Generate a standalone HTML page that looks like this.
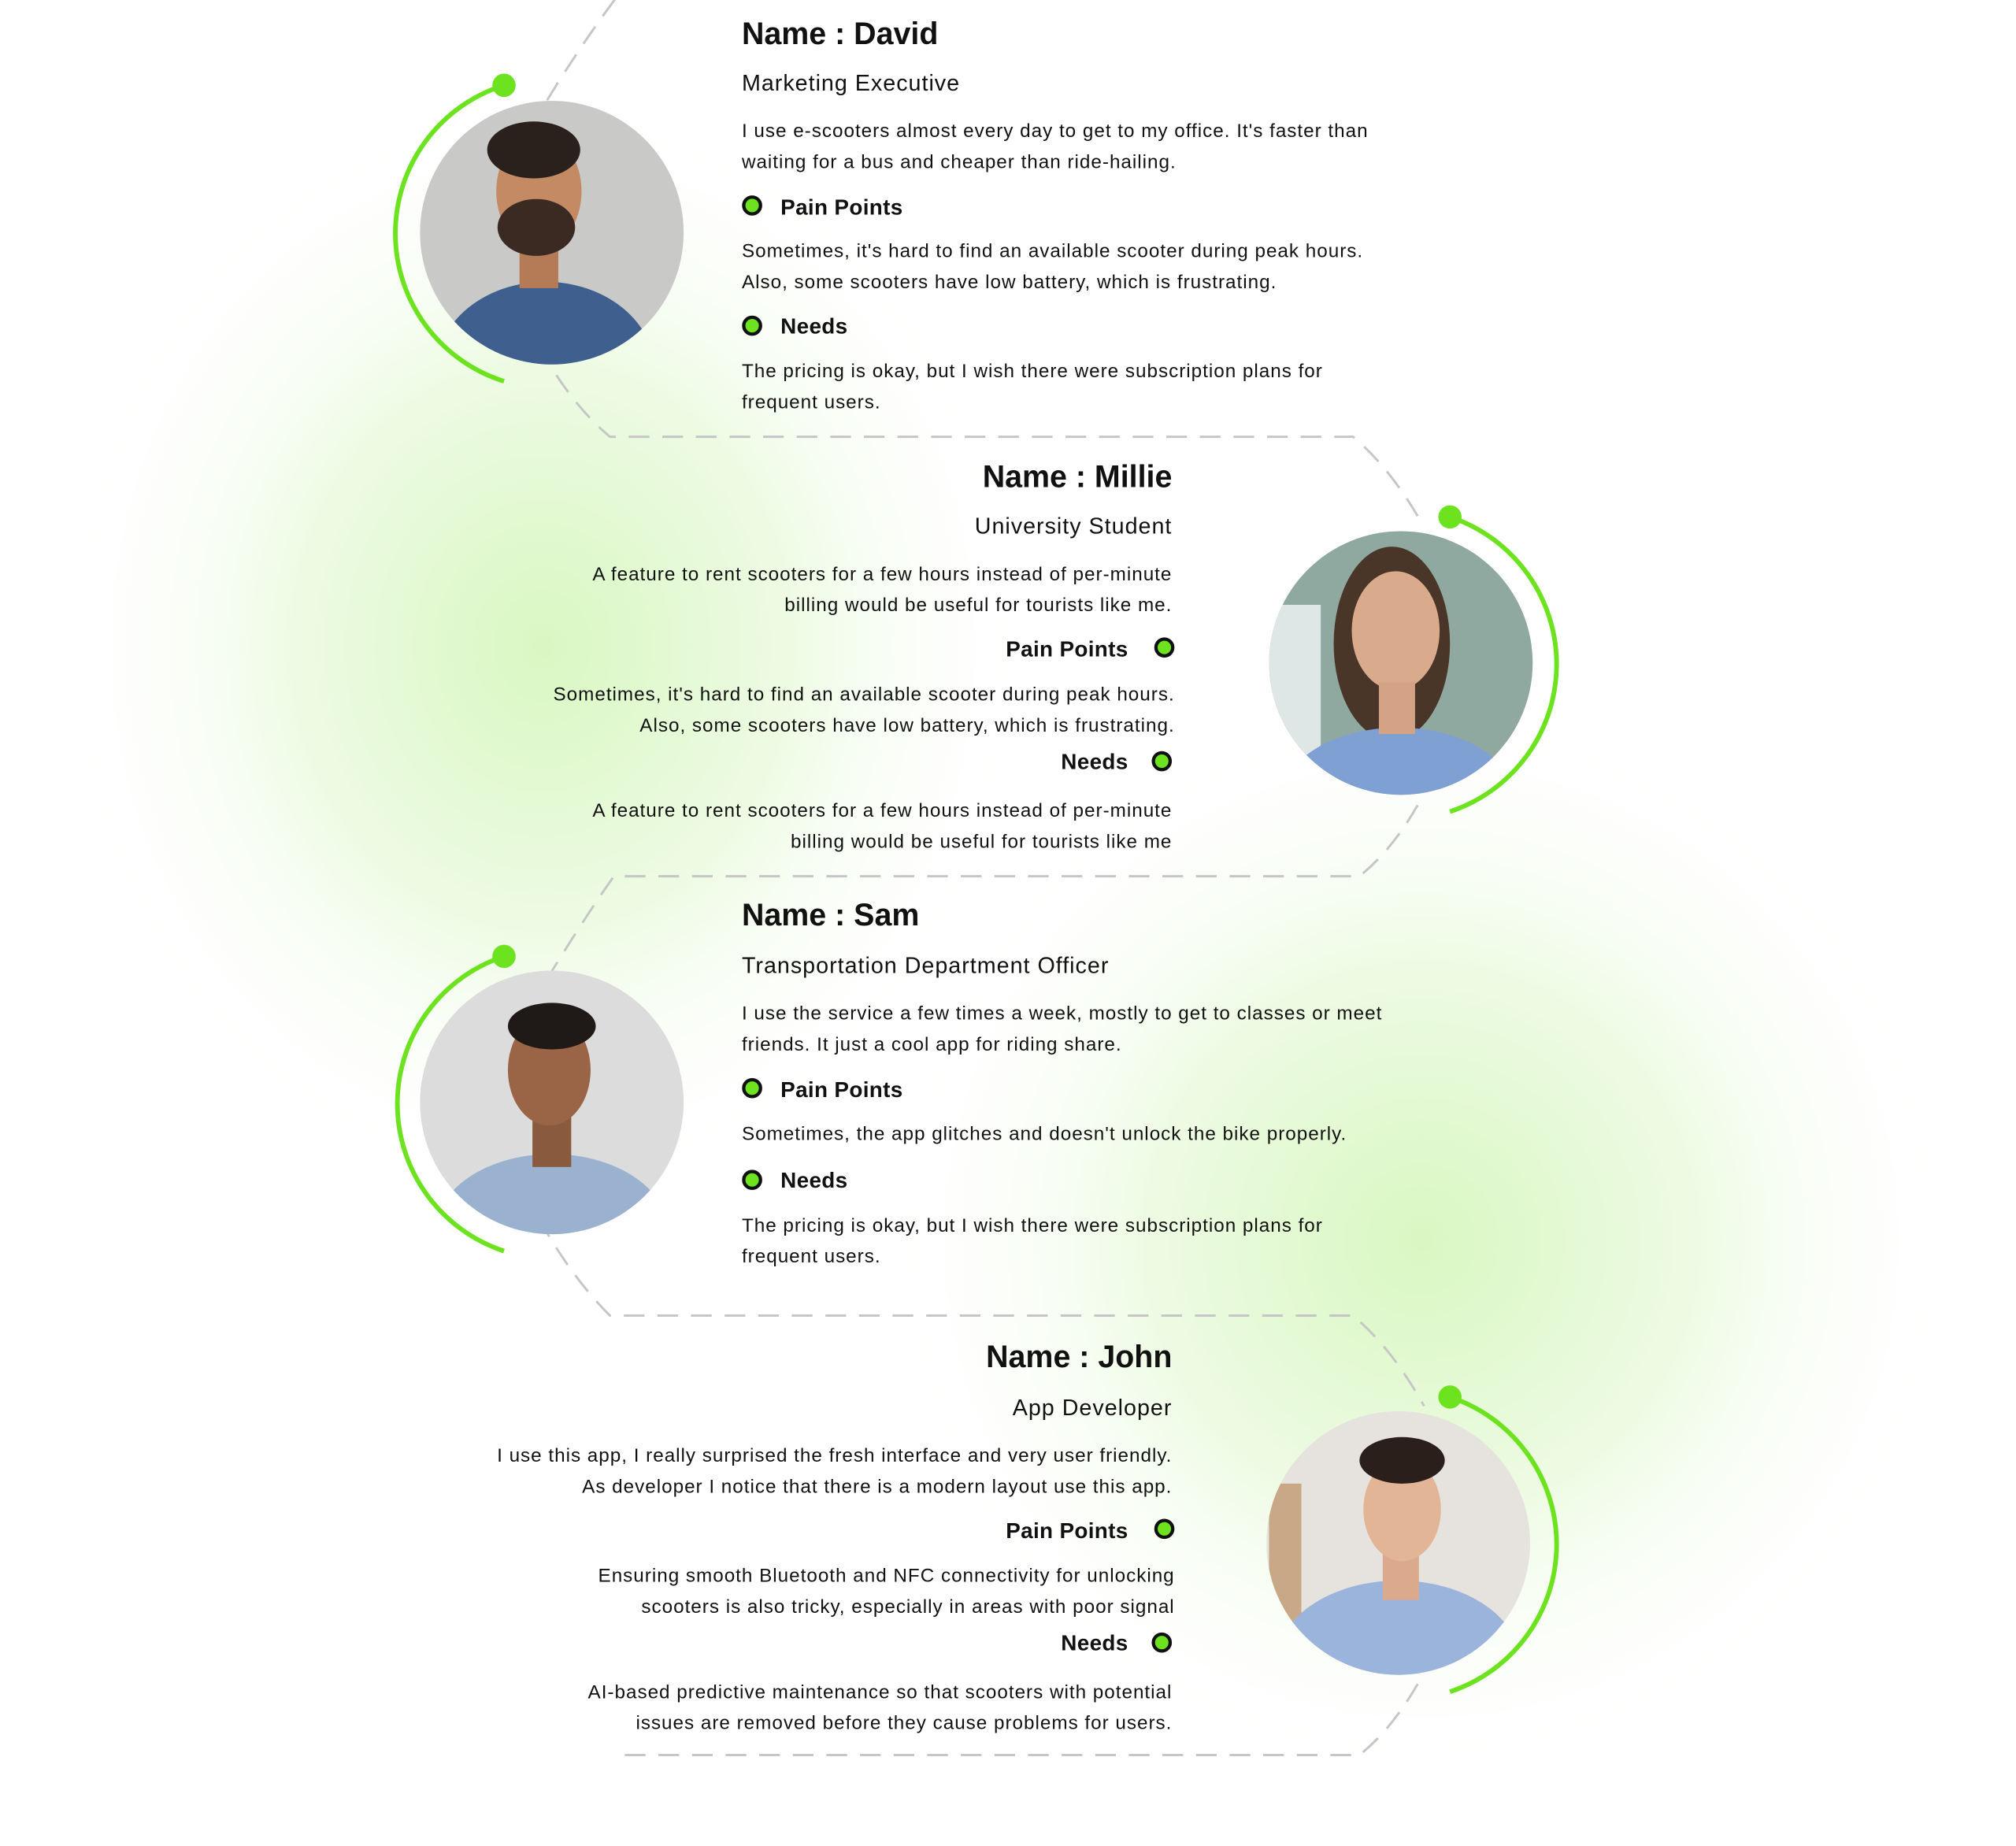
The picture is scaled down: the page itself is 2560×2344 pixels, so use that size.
<!DOCTYPE html>
<html><head><meta charset="utf-8"><style>
html,body{margin:0;padding:0;background:#fff;}
svg{display:block;}
text{font-family:"Liberation Sans",sans-serif;fill:#111;}
.n{font-size:24px;font-weight:bold;}
.s{font-size:17.5px;letter-spacing:0.6px;}
.b{font-size:14.8px;letter-spacing:0.6px;}
.h{font-size:17px;font-weight:bold;letter-spacing:0.2px;}
.r{text-anchor:end;}
</style></head><body>
<svg width="2560" height="2344" viewBox="0 0 1560 1428.4" xmlns="http://www.w3.org/2000/svg">
<defs>
<radialGradient id="g1" cx="0.5" cy="0.5" r="0.5"><stop offset="0" stop-color="#d9f7c2"/><stop offset="0.5" stop-color="#edfbe3"/><stop offset="1" stop-color="#ffffff" stop-opacity="0"/></radialGradient>
<clipPath id="c1"><circle cx="430" cy="182" r="102"/></clipPath>
<clipPath id="c2"><circle cx="1087" cy="515" r="102"/></clipPath>
<clipPath id="c3"><circle cx="430" cy="855" r="102"/></clipPath>
<clipPath id="c4"><circle cx="1085" cy="1196" r="102"/></clipPath>
</defs>
<rect width="1560" height="1428.4" fill="#fff"/>
<ellipse cx="420" cy="500" rx="380" ry="430" fill="url(#g1)"/>
<ellipse cx="1100" cy="960" rx="420" ry="420" fill="url(#g1)"/>

<g transform="translate(-3,-2)">
<g fill="none" stroke="#c6c6c6" stroke-width="1.8" stroke-dasharray="16 10">
<path d="M1050,0 L480,0 Q450,40 420,90"/>
<path d="M420,270 Q445,315 475,340 L1050,340 Q1080,365 1105,410"/>
<path d="M1100,625 Q1080,660 1055,680 L478,680 Q450,720 420,770"/>
<path d="M420,945 Q445,990 475,1020 L1050,1020 Q1080,1045 1105,1090"/>
<path d="M1100,1305 Q1080,1340 1055,1360 L478,1360"/>
</g>

<g fill="none" stroke="#6de31f" stroke-width="3.6">
<path d="M393,68 A120,120 0 0 0 393,297"/>
<path d="M1125,402 A120,120 0 0 1 1125,630"/>
<path d="M393,742 A120,120 0 0 0 393,970"/>
<path d="M1125,1083 A120,120 0 0 1 1125,1311"/>
</g>
<g fill="#6de31f">
<circle cx="393" cy="68" r="9"/><circle cx="1125" cy="402" r="9"/>
<circle cx="393" cy="742" r="9"/><circle cx="1125" cy="1083" r="9"/>
</g>
</g>

<g transform="translate(-3,-2)">
<g clip-path="url(#c1)">
<rect x="320" y="70" width="220" height="220" fill="#c9c9c7"/>
<ellipse cx="425" cy="290" rx="85" ry="70" fill="#3f5f8e"/>
<rect x="405" y="180" width="30" height="45" fill="#b57a56"/>
<ellipse cx="420" cy="150" rx="33" ry="45" fill="#c48a64"/>
<ellipse cx="418" cy="178" rx="30" ry="22" fill="#3a2a22"/>
<ellipse cx="416" cy="118" rx="36" ry="22" fill="#2a201c"/>
</g>
<g clip-path="url(#c2)">
<rect x="980" y="410" width="220" height="220" fill="#8fa8a0"/>
<rect x="985" y="470" width="40" height="130" fill="#dfe6e6"/>
<ellipse cx="1080" cy="500" rx="45" ry="75" fill="#4a3628"/>
<ellipse cx="1085" cy="620" rx="90" ry="55" fill="#7ea0d2"/>
<ellipse cx="1083" cy="490" rx="34" ry="46" fill="#d9aa8c"/>
<rect x="1070" y="530" width="28" height="40" fill="#d4a284"/>
</g>
<g clip-path="url(#c3)">
<rect x="320" y="745" width="220" height="220" fill="#dcdcdc"/>
<ellipse cx="430" cy="955" rx="90" ry="60" fill="#9ab2d0"/>
<rect x="415" y="860" width="30" height="45" fill="#8a5a3e"/>
<ellipse cx="428" cy="830" rx="32" ry="43" fill="#9a6546"/>
<ellipse cx="430" cy="796" rx="34" ry="18" fill="#1f1a18"/>
</g>
<g clip-path="url(#c4)">
<rect x="980" y="1090" width="220" height="220" fill="#e6e2de"/>
<rect x="985" y="1150" width="25" height="130" fill="#c9a888"/>
<ellipse cx="1085" cy="1290" rx="95" ry="65" fill="#9bb4dc"/>
<rect x="1073" y="1200" width="28" height="40" fill="#dbaa8c"/>
<ellipse cx="1088" cy="1170" rx="30" ry="40" fill="#e2b596"/>
<ellipse cx="1088" cy="1132" rx="33" ry="18" fill="#2a1f1a"/>
</g>

<text class="n" x="577" y="36">Name : David</text>
<text class="s" x="577" y="72">Marketing Executive</text>
<text class="b" x="577" y="108">I use e-scooters almost every day to get to my office. It's faster than</text>
<text class="b" x="577" y="132">waiting for a bus and cheaper than ride-hailing.</text>
<circle cx="585" cy="161" r="6.5" fill="#6de31f" stroke="#111" stroke-width="2.6"/>
<text class="h" x="607" y="168">Pain Points</text>
<text class="b" x="577" y="201">Sometimes, it's hard to find an available scooter during peak hours.</text>
<text class="b" x="577" y="225">Also, some scooters have low battery, which is frustrating.</text>
<circle cx="585" cy="254" r="6.5" fill="#6de31f" stroke="#111" stroke-width="2.6"/>
<text class="h" x="607" y="260">Needs</text>
<text class="b" x="577" y="294">The pricing is okay, but I wish there were subscription plans for</text>
<text class="b" x="577" y="318">frequent users.</text>

<text class="n r" x="910" y="379">Name : Millie</text>
<text class="s r" x="910" y="415">University Student</text>
<text class="b r" x="910" y="451">A feature to rent scooters for a few hours instead of per-minute</text>
<text class="b r" x="910" y="475">billing would be useful for tourists like me.</text>
<circle cx="904" cy="503" r="6.5" fill="#6de31f" stroke="#111" stroke-width="2.6"/>
<text class="h r" x="876" y="510">Pain Points</text>
<text class="b r" x="912" y="544">Sometimes, it's hard to find an available scooter during peak hours.</text>
<text class="b r" x="912" y="568">Also, some scooters have low battery, which is frustrating.</text>
<circle cx="902" cy="591" r="6.5" fill="#6de31f" stroke="#111" stroke-width="2.6"/>
<text class="h r" x="876" y="597">Needs</text>
<text class="b r" x="910" y="634">A feature to rent scooters for a few hours instead of per-minute</text>
<text class="b r" x="910" y="658">billing would be useful for tourists like me</text>

<text class="n" x="577" y="718">Name : Sam</text>
<text class="s" x="577" y="755">Transportation Department Officer</text>
<text class="b" x="577" y="791">I use the service a few times a week, mostly to get to classes or meet</text>
<text class="b" x="577" y="815">friends. It just a cool app for riding share.</text>
<circle cx="585" cy="844" r="6.5" fill="#6de31f" stroke="#111" stroke-width="2.6"/>
<text class="h" x="607" y="851">Pain Points</text>
<text class="b" x="577" y="884">Sometimes, the app glitches and doesn't unlock the bike properly.</text>
<circle cx="585" cy="915" r="6.5" fill="#6de31f" stroke="#111" stroke-width="2.6"/>
<text class="h" x="607" y="921">Needs</text>
<text class="b" x="577" y="955">The pricing is okay, but I wish there were subscription plans for</text>
<text class="b" x="577" y="979">frequent users.</text>

<text class="n r" x="910" y="1060">Name : John</text>
<text class="s r" x="910" y="1097">App Developer</text>
<text class="b r" x="910" y="1133">I use this app, I really surprised the fresh interface and very user friendly.</text>
<text class="b r" x="910" y="1157">As developer I notice that there is a modern layout use this app.</text>
<circle cx="904" cy="1185" r="6.5" fill="#6de31f" stroke="#111" stroke-width="2.6"/>
<text class="h r" x="876" y="1192">Pain Points</text>
<text class="b r" x="912" y="1226">Ensuring smooth Bluetooth and NFC connectivity for unlocking</text>
<text class="b r" x="912" y="1250">scooters is also tricky, especially in areas with poor signal</text>
<circle cx="902" cy="1273" r="6.5" fill="#6de31f" stroke="#111" stroke-width="2.6"/>
<text class="h r" x="876" y="1279">Needs</text>
<text class="b r" x="910" y="1316">AI-based predictive maintenance so that scooters with potential</text>
<text class="b r" x="910" y="1340">issues are removed before they cause problems for users.</text>
</g>
</svg>
</body></html>
